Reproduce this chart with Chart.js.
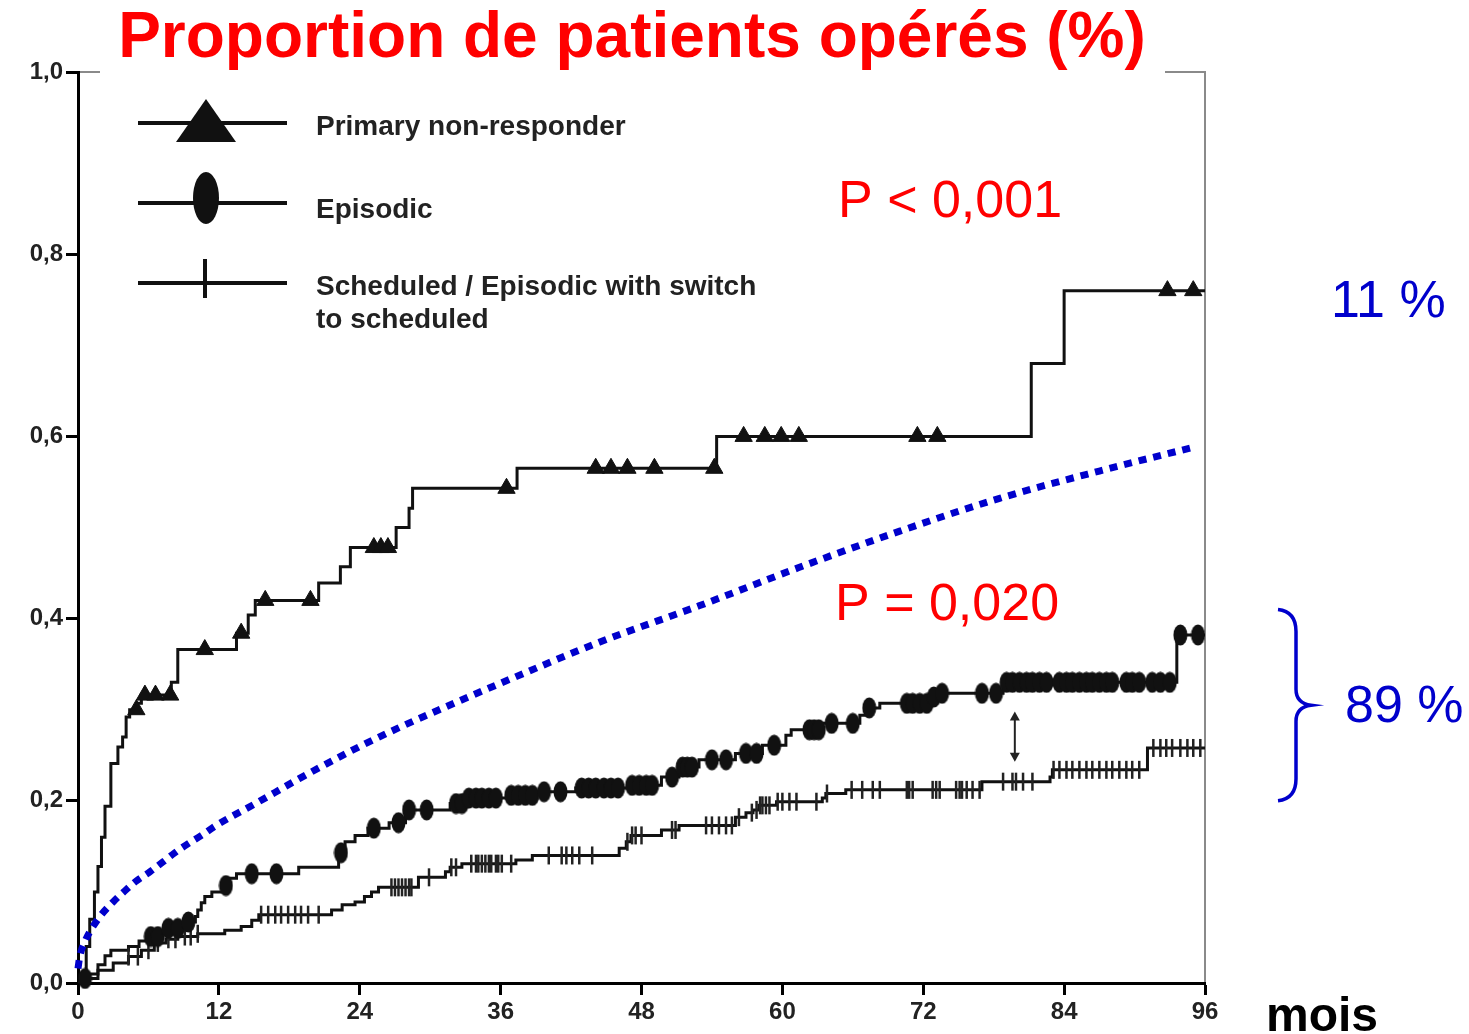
<!DOCTYPE html>
<html><head><meta charset="utf-8">
<script src="https://cdn.jsdelivr.net/npm/chart.js@4"></script>
<style>html,body{margin:0;padding:0;background:#fff;} canvas{display:block;}</style>
</head><body>
<canvas id="c" width="1469" height="1034"></canvas>
<script>
// ---------- DATA (months, cumulative proportion) ----------
const xTicks = [0, 12, 24, 36, 48, 60, 72, 84, 96];
const yTicks = [0, 0.2, 0.4, 0.6, 0.8, 1.0];

const seriesNames = ["Primary non-responder", "Episodic", "Scheduled / Episodic with switch", "to scheduled"];

const primaryMonths = [0, 0.3, 0.7, 1.0, 1.4, 1.7, 2.0, 2.3, 2.8, 3.4, 3.8, 4.1, 4.4, 5.0, 5.4, 7.95, 8.5, 13.5, 14.5, 15.1, 20.5, 22.35, 23.2, 27.1, 28.2, 28.5, 37.4, 54.4, 81.2, 84.0, 96];
const primaryValues = [0, 0.01, 0.04, 0.07, 0.10, 0.128, 0.16, 0.194, 0.241, 0.259, 0.270, 0.292, 0.300, 0.307, 0.316, 0.33, 0.366, 0.384, 0.404, 0.42, 0.439, 0.457, 0.478, 0.50, 0.521, 0.543, 0.565, 0.60, 0.68, 0.76, 0.76];
const primaryCensor = [4.97, 5.7, 6.6, 7.85, 10.8, 13.9, 15.95, 19.8, 25.2, 25.8, 26.4, 36.5, 44.1, 45.4, 46.8, 49.1, 54.2, 56.7, 58.5, 59.9, 61.4, 71.5, 73.2, 92.8, 95.0];

const episodicMonths = [0, 0.5, 1.0, 1.7, 2.3, 2.8, 4.3, 5.2, 6.2, 7.0, 7.7, 8.6, 9.4, 10.0, 10.2, 10.5, 10.8, 11.4, 12.3, 12.65, 13.5, 18.8, 22.2, 22.75, 23.6, 24.7, 26.5, 27.9, 31.7, 32.8, 36.5, 39.0, 42.4, 47.2, 49.7, 51.2, 52.9, 56.0, 58.3, 60.3, 60.75, 63.4, 66.6, 67.1, 68.3, 72.8, 73.1, 78.8, 93.6, 96];
const episodicValues = [0, 0.005, 0.01, 0.02, 0.03, 0.036, 0.04, 0.046, 0.051, 0.056, 0.06, 0.064, 0.067, 0.073, 0.08, 0.088, 0.095, 0.10, 0.107, 0.115, 0.12, 0.127, 0.143, 0.155, 0.162, 0.170, 0.176, 0.19, 0.197, 0.203, 0.206, 0.21, 0.214, 0.217, 0.226, 0.237, 0.245, 0.252, 0.261, 0.272, 0.278, 0.285, 0.294, 0.302, 0.307, 0.314, 0.318, 0.33, 0.382, 0.382];
const episodicCensor = [0.6, 6.2, 6.8, 7.7, 8.5, 9.4, 12.6, 14.8, 16.9, 22.4, 25.2, 27.3, 28.2, 29.7, 32.2, 32.7, 33.3, 33.9, 34.4, 35.0, 35.6, 36.9, 37.5, 38.1, 38.7, 39.7, 41.1, 42.9, 43.5, 44.1, 44.8, 45.4, 46.0, 47.2, 47.8, 48.4, 48.9, 50.6, 51.5, 51.9, 52.3, 54.0, 55.2, 56.9, 57.8, 59.3, 62.3, 62.7, 63.1, 64.2, 66.0, 67.4, 70.6, 71.1, 71.7, 72.3, 72.9, 73.6, 77.0, 78.2, 79.1, 79.6, 80.2, 80.8, 81.3, 81.9, 82.5, 83.6, 84.2, 84.7, 85.3, 85.9, 86.4, 87.0, 87.6, 88.1, 89.3, 89.8, 90.4, 91.5, 92.2, 93.0, 93.9, 95.4];

const scheduledMonths = [0, 0.8, 1.7, 3.0, 4.3, 5.4, 6.5, 7.5, 8.5, 10.2, 12.5, 13.9, 14.8, 15.4, 21.6, 22.5, 23.6, 24.4, 25.0, 25.6, 29.0, 31.3, 31.7, 32.7, 37.3, 38.7, 46.1, 46.7, 47.1, 49.7, 51.2, 56.0, 56.9, 57.5, 58.0, 59.5, 63.4, 63.7, 65.4, 77.0, 82.8, 83.0, 91.1, 96];
const scheduledValues = [0, 0.005, 0.014, 0.022, 0.029, 0.036, 0.044, 0.048, 0.051, 0.054, 0.058, 0.062, 0.069, 0.075, 0.08, 0.086, 0.089, 0.095, 0.10, 0.105, 0.116, 0.122, 0.127, 0.131, 0.135, 0.14, 0.148, 0.155, 0.162, 0.168, 0.173, 0.182, 0.187, 0.19, 0.195, 0.199, 0.203, 0.208, 0.212, 0.221, 0.226, 0.234, 0.258, 0.258];
const scheduledCensor = [4.3, 5.1, 6.0, 6.8, 7.7, 8.3, 9.1, 9.6, 10.2, 15.6, 16.2, 16.8, 17.3, 17.9, 18.5, 19.0, 19.6, 20.5, 26.7, 27.0, 27.3, 27.6, 27.9, 28.2, 28.4, 29.9, 31.8, 32.2, 33.5, 33.9, 34.1, 34.4, 34.7, 35.0, 35.2, 35.6, 35.8, 36.1, 36.9, 40.1, 41.2, 41.6, 42.1, 42.7, 43.8, 46.8, 47.2, 47.5, 48.0, 50.6, 50.9, 53.5, 54.0, 54.6, 55.2, 55.7, 56.3, 57.4, 57.8, 58.1, 58.3, 58.6, 58.9, 59.6, 60.0, 60.6, 61.2, 62.9, 63.8, 65.9, 66.8, 67.7, 68.3, 70.6, 70.8, 71.1, 72.8, 73.1, 73.4, 74.8, 75.1, 75.3, 75.7, 76.2, 76.8, 78.8, 79.6, 79.9, 80.5, 81.3, 83.1, 83.6, 84.2, 84.7, 85.3, 85.9, 86.4, 87.0, 87.6, 88.1, 88.7, 89.3, 89.8, 90.4, 91.6, 92.2, 92.7, 93.2, 93.9, 94.5, 95.0, 95.6];

const trendMonths = [0, 0.15, 0.57, 1.28, 1.99, 2.99, 3.98, 4.97, 6.12, 7.25, 8.25, 9.39, 10.52, 11.66, 15.4, 18.8, 23.6, 27.3, 31.3, 35.8, 44.4, 52.9, 61.4, 70.0, 78.5, 87.0, 95.3];
const trendValues = [0.016, 0.029, 0.045, 0.062, 0.075, 0.089, 0.101, 0.112, 0.122, 0.133, 0.143, 0.153, 0.162, 0.172, 0.199, 0.224, 0.257, 0.280, 0.303, 0.328, 0.374, 0.414, 0.456, 0.496, 0.532, 0.562, 0.589];

const arrowMonth = 79.8;
const arrowRange = [0.298, 0.243];
const braceRange = [0.41, 0.20];

const titleText = "Proportion de patients opérés (%)";
const pTop = "P < 0,001";
const pBottom = "P = 0,020";
const pctTop = "11 %";
const pctBottom = "89 %";
const xUnit = "mois";

// ---------- helpers ----------
function stepAt(ms, vs, t) { let v = vs[0]; for (let i = 0; i < ms.length; i++) { if (ms[i] <= t) v = vs[i]; else break; } return v; }
const toPts = (xs, ys) => xs.map((x, i) => ({ x: x, y: ys[i] }));
const censorPts = (cs, ms, vs) => cs.map(t => ({ x: t, y: stepAt(ms, vs, t) }));

const dotImg = document.createElement('canvas');
dotImg.width = 15; dotImg.height = 22;
(function () { const g = dotImg.getContext('2d'); g.fillStyle = '#111'; g.beginPath(); g.ellipse(7.5, 11, 7, 10.5, 0, 0, Math.PI * 2); g.fill(); })();

const FONT = '"Liberation Sans", Arial, Helvetica, sans-serif';
const BLUE = '#0000CC';

const decor = {
  id: 'decor',
  beforeDraw(chart) {
    const { ctx, chartArea: a } = chart;
    ctx.save();
    ctx.fillStyle = '#fff'; ctx.fillRect(0, 0, chart.width, chart.height);
    ctx.strokeStyle = '#8a8a8a'; ctx.lineWidth = 2;
    ctx.beginPath(); ctx.moveTo(a.left, a.top); ctx.lineTo(a.right, a.top); ctx.lineTo(a.right, a.bottom); ctx.stroke();
    ctx.restore();
  },
  afterDraw(chart) {
    const { ctx, chartArea: a, scales } = chart;
    const xs = scales.x, ys = scales.y;
    ctx.save();
    // title with white box
    ctx.fillStyle = '#fff'; ctx.fillRect(a.left + 22, 0, 1165 - a.left - 22, a.top + 3);
    ctx.fillStyle = '#FF0000'; ctx.font = 'bold 64px ' + FONT; ctx.textAlign = 'center'; ctx.textBaseline = 'alphabetic';
    ctx.fillText(titleText, 632, 57);

    // legend
    const lx0 = 138, lx1 = 287, mx = 206;
    const rows = [123, 203, 283];
    ctx.strokeStyle = '#111'; ctx.lineWidth = 4; ctx.fillStyle = '#111';
    rows.forEach(y => { ctx.beginPath(); ctx.moveTo(lx0, y); ctx.lineTo(lx1, y); ctx.stroke(); });
    ctx.beginPath(); ctx.moveTo(mx, 99); ctx.lineTo(mx + 30, 142); ctx.lineTo(mx - 30, 142); ctx.closePath(); ctx.fill();
    ctx.beginPath(); ctx.ellipse(mx, 198, 13, 26, 0, 0, Math.PI * 2); ctx.fill();
    ctx.beginPath(); ctx.moveTo(mx - 1, 259); ctx.lineTo(mx - 1, 298); ctx.stroke();
    ctx.fillStyle = '#222'; ctx.font = 'bold 28px ' + FONT; ctx.textAlign = 'left';
    ctx.fillText(seriesNames[0], 316, 135);
    ctx.fillText(seriesNames[1], 316, 218);
    ctx.fillText(seriesNames[2], 316, 295);
    ctx.fillText(seriesNames[3], 316, 328);

    // P values
    ctx.fillStyle = '#FF0000'; ctx.font = '52px ' + FONT; ctx.textAlign = 'left';
    ctx.fillText(pTop, 838, 217);
    ctx.fillText(pBottom, 835, 620);

    // percentages
    ctx.fillStyle = BLUE; ctx.font = '52px ' + FONT;
    ctx.fillText(pctTop, 1331, 317);
    ctx.fillText(pctBottom, 1345, 722);

    // brace
    const bt = ys.getPixelForValue(braceRange[0]), bb = ys.getPixelForValue(braceRange[1]);
    const bm = (bt + bb) / 2, bx = a.right + 73;
    ctx.strokeStyle = BLUE; ctx.lineWidth = 3.5;
    ctx.beginPath();
    ctx.moveTo(bx, bt);
    ctx.quadraticCurveTo(bx + 18, bt + 2, bx + 18, bt + 22);
    ctx.lineTo(bx + 18, bm - 16);
    ctx.quadraticCurveTo(bx + 18, bm - 2, bx + 33, bm);
    ctx.quadraticCurveTo(bx + 18, bm + 2, bx + 18, bm + 16);
    ctx.lineTo(bx + 18, bb - 22);
    ctx.quadraticCurveTo(bx + 18, bb - 2, bx, bb);
    ctx.stroke();

    // mois
    ctx.fillStyle = '#000'; ctx.font = 'bold 48px ' + FONT;
    ctx.fillText(xUnit, 1266, 1031);

    // double arrow
    const ax = xs.getPixelForValue(arrowMonth), ay0 = ys.getPixelForValue(arrowRange[0]), ay1 = ys.getPixelForValue(arrowRange[1]);
    ctx.strokeStyle = '#222'; ctx.fillStyle = '#222'; ctx.lineWidth = 2;
    ctx.beginPath(); ctx.moveTo(ax, ay0 + 6); ctx.lineTo(ax, ay1 - 6); ctx.stroke();
    ctx.beginPath(); ctx.moveTo(ax, ay0); ctx.lineTo(ax - 5, ay0 + 9); ctx.lineTo(ax + 5, ay0 + 9); ctx.closePath(); ctx.fill();
    ctx.beginPath(); ctx.moveTo(ax, ay1); ctx.lineTo(ax - 5, ay1 - 9); ctx.lineTo(ax + 5, ay1 - 9); ctx.closePath(); ctx.fill();
    ctx.restore();
  }
};

const stepDS = (label, ms, vs) => ({ label, data: toPts(ms, vs), stepped: 'before', borderColor: '#111', borderWidth: 3, pointRadius: 0, fill: false, order: 2 });

new Chart(document.getElementById('c'), {
  type: 'line',
  data: {
    datasets: [
      stepDS(seriesNames[0], primaryMonths, primaryValues),
      stepDS(seriesNames[1], episodicMonths, episodicValues),
      stepDS(seriesNames[2] + ' ' + seriesNames[3], scheduledMonths, scheduledValues),
      { label: 'censor primary', data: censorPts(primaryCensor, primaryMonths, primaryValues), showLine: false, pointStyle: 'triangle', pointRadius: 10, backgroundColor: '#111', borderColor: '#111', borderWidth: 1, clip: false, order: 1 },
      { label: 'censor episodic', data: censorPts(episodicCensor, episodicMonths, episodicValues), showLine: false, pointStyle: dotImg, pointRadius: 8, clip: false, order: 1 },
      { label: 'censor scheduled', data: censorPts(scheduledCensor, scheduledMonths, scheduledValues), showLine: false, pointStyle: 'line', pointRotation: 90, pointRadius: 9, borderColor: '#222', borderWidth: 2.5, clip: false, order: 1 },
      { label: 'trend', data: toPts(trendMonths, trendValues), borderColor: BLUE, borderWidth: 7, borderDash: [8, 7], borderCapStyle: 'butt', cubicInterpolationMode: 'monotone', pointRadius: 0, fill: false, clip: false, order: 0 }
    ]
  },
  options: {
    responsive: false,
    animation: false,
    devicePixelRatio: 1,
    layout: { padding: { left: 0, top: 72, right: 264, bottom: 0 } },
    plugins: { legend: { display: false }, tooltip: { enabled: false }, title: { display: false } },
    scales: {
      x: {
        type: 'linear', min: 0, max: 96,
        afterFit(s) { s.height = 51; },
        afterBuildTicks(s) { s.ticks = xTicks.map(v => ({ value: v })); },
        border: { display: true, color: '#000', width: 3 },
        grid: { drawOnChartArea: false, drawTicks: true, tickLength: 12, tickWidth: 3, tickColor: '#000' },
        ticks: { color: '#222', font: { family: FONT, size: 24, weight: 'bold' }, padding: 3, maxRotation: 0, autoSkip: false }
      },
      y: {
        type: 'linear', min: 0, max: 1,
        afterFit(s) { s.width = 78; },
        afterBuildTicks(s) { s.ticks = yTicks.map(v => ({ value: v })); },
        border: { display: true, color: '#000', width: 3 },
        grid: { drawOnChartArea: false, drawTicks: true, tickLength: 12, tickWidth: 3, tickColor: '#000' },
        ticks: { color: '#222', font: { family: FONT, size: 24, weight: 'bold' }, padding: 3, callback: v => v.toFixed(1).replace('.', ',') }
      }
    }
  },
  plugins: [decor]
});
</script>
</body></html>
